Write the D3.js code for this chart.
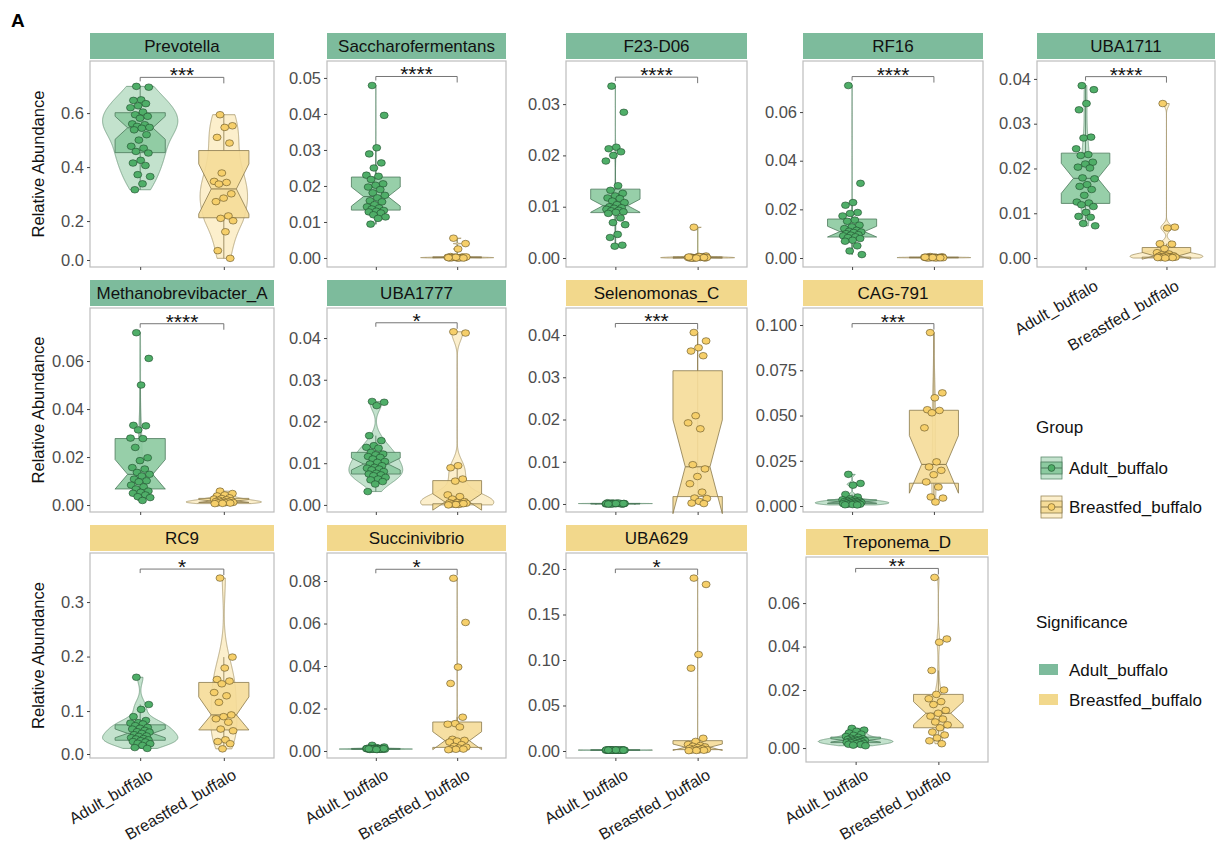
<!DOCTYPE html>
<html>
<head>
<meta charset="utf-8">
<script src="https://cdn.jsdelivr.net/npm/d3@7"></script>
<style>
  body { margin: 0; background: #fff; }
  text { font-family: "Liberation Sans", Arial, sans-serif; }
</style>
</head>
<body>
<div id="chart"></div>
<script>
// ---- data ----
const groups = ["Adult_buffalo", "Breastfed_buffalo"];
const taxa = ["Prevotella", "Saccharofermentans", "F23-D06", "RF16", "UBA1711",
              "Methanobrevibacter_A", "UBA1777", "Selenomonas_C", "CAG-791",
              "RC9", "Succinivibrio", "UBA629", "Treponema_D"];
const enrichedIn = ["Adult_buffalo", "Adult_buffalo", "Adult_buffalo", "Adult_buffalo", "Adult_buffalo",
                    "Adult_buffalo", "Adult_buffalo", "Breastfed_buffalo", "Breastfed_buffalo",
                    "Breastfed_buffalo", "Breastfed_buffalo", "Breastfed_buffalo", "Breastfed_buffalo"];
const sigLabels = ["***", "****", "****", "****", "****", "****", "*", "***", "***", "*", "*", "*", "**"];
const yTicks = [
  [0, 0.2, 0.4, 0.6],
  [0, 0.01, 0.02, 0.03, 0.04, 0.05],
  [0, 0.01, 0.02, 0.03],
  [0, 0.02, 0.04, 0.06],
  [0, 0.01, 0.02, 0.03, 0.04],
  [0, 0.02, 0.04, 0.06],
  [0, 0.01, 0.02, 0.03, 0.04],
  [0, 0.01, 0.02, 0.03, 0.04],
  [0, 0.025, 0.05, 0.075, 0.1],
  [0, 0.1, 0.2, 0.3],
  [0, 0.02, 0.04, 0.06, 0.08],
  [0, 0.05, 0.1, 0.15, 0.2],
  [0, 0.02, 0.04, 0.06]
];
const yTickFormats = [".1f", ".2f", ".2f", ".2f", ".2f", ".2f", ".2f", ".2f", ".3f", ".1f", ".2f", ".2f", ".2f"];

const prevotellaAdult = [0.699,0.696,0.649,0.647,0.635,0.627,0.620,0.604,0.594,0.588,0.581,0.560,0.557,0.551,0.547,0.544,0.538,0.520,0.500,0.477,0.470,0.458,0.452,0.425,0.415,0.406,0.372,0.365,0.338,0.316];
const prevotellaBreastfed = [0.594,0.553,0.547,0.510,0.489,0.378,0.347,0.343,0.337,0.301,0.285,0.272,0.219,0.210,0.201,0.145,0.048,0.0085];
const saccharoAdult = [0.0479,0.0396,0.0306,0.0289,0.0264,0.0250,0.0230,0.0227,0.0218,0.0206,0.0202,0.0197,0.0190,0.0181,0.0174,0.0167,0.0159,0.0156,0.0148,0.0142,0.0139,0.0136,0.0132,0.0130,0.0128,0.0125,0.0120,0.0114,0.0110,0.0094];
const saccharoBreastfed = [0.0055,0.0040,0.0025,0.0004,0.0003,0.0002,0.0002,0.0001,0.0001,0.0001,0.0000,0.0000,0.0001,0.0002,0.0003,0.0000,0.0001,0.0000,0.0002,0.0001];
const f23Adult = [0.0335,0.0284,0.0216,0.0213,0.0207,0.0200,0.0189,0.0141,0.0132,0.0126,0.0121,0.0117,0.0116,0.0111,0.0108,0.0104,0.0100,0.0098,0.0097,0.0095,0.0093,0.0092,0.0090,0.0089,0.0087,0.0078,0.0069,0.0065,0.0046,0.0040,0.0025,0.0023];
const f23Breastfed = [0.0060,0.0004,0.0003,0.0002,0.0002,0.0001,0.0001,0.0001,0.0000,0.0000,0.0001,0.0000,0.0002,0.0000,0.0001,0.0003,0.0000,0.0001,0.0000,0.0002];
const rf16Adult = [0.0709,0.0307,0.0228,0.0217,0.0187,0.0183,0.0173,0.0156,0.0151,0.0135,0.0128,0.0121,0.0114,0.0110,0.0107,0.0105,0.0100,0.0096,0.0094,0.0091,0.0087,0.0084,0.0080,0.0073,0.0069,0.0050,0.0029,0.0014];
const rf16Breastfed = [0.0006,0.0005,0.0004,0.0004,0.0003,0.0003,0.0003,0.0002,0.0002,0.0002,0.0002,0.0001,0.0001,0.0001,0.0001,0.0000,0.0000,0.0001,0.0002,0.0003];
const uba1711Adult = [0.0385,0.0376,0.0345,0.0331,0.0270,0.0268,0.0244,0.0231,0.0229,0.0214,0.0210,0.0203,0.0201,0.0179,0.0177,0.0164,0.0160,0.0153,0.0140,0.0125,0.0123,0.0119,0.0115,0.0102,0.0093,0.0091,0.0077,0.0072];
const uba1711Breastfed = [0.0345,0.0069,0.0067,0.0032,0.0031,0.0021,0.0012,0.0009,0.0007,0.0005,0.0005,0.0004,0.0003,0.0003,0.0002,0.0002,0.0001,0.0001,0.0000,0.0001];
const methanoAdult = [0.0718,0.0611,0.0500,0.0332,0.0330,0.0313,0.0279,0.0277,0.0240,0.0197,0.0185,0.0156,0.0150,0.0136,0.0128,0.0121,0.0108,0.0101,0.0097,0.0083,0.0076,0.0067,0.0058,0.0053,0.0049,0.0042,0.0035,0.0031,0.0019];
const methanoBreastfed = [0.0058,0.0048,0.0042,0.0038,0.0030,0.0027,0.0025,0.0022,0.0020,0.0018,0.0016,0.0015,0.0013,0.0012,0.0011,0.0010,0.0009,0.0008,0.0007,0.0006];
const uba1777Adult = [0.0248,0.0246,0.0238,0.0166,0.0154,0.0142,0.0138,0.0136,0.0126,0.0122,0.0120,0.0116,0.0114,0.0110,0.0104,0.0102,0.0098,0.0094,0.0090,0.0088,0.0086,0.0084,0.0080,0.0076,0.0074,0.0072,0.0070,0.0066,0.0062,0.0060,0.0056,0.0050,0.0032];
const uba1777Breastfed = [0.0415,0.0412,0.0094,0.0089,0.0062,0.0057,0.0024,0.0020,0.0014,0.0008,0.0006,0.0005,0.0003,0.0002,0.0004,0.0001,0.0002,0.0003,0.0001,0.0000];
const selenoAdult = [0.0002,0.0001,0.0001,0.0000,0.0001,0.0002,0.0000,0.0001,0.0001,0.0000,0.0001,0.0003,0.0001,0.0000,0.0001,0.0002,0.0001,0.0000,0.0001,0.0001,0.0002,0.0000,0.0001,0.0001,0.0000];
const selenoBreastfed = [0.0406,0.0386,0.0370,0.0362,0.0351,0.0209,0.0192,0.0178,0.0093,0.0083,0.0065,0.0048,0.0028,0.0014,0.0013,0.0006,0.0002,0.0001];
const cag791Adult = [0.0175,0.0125,0.0115,0.0064,0.0050,0.0040,0.0035,0.0033,0.0030,0.0028,0.0027,0.0025,0.0024,0.0022,0.0020,0.0020,0.0018,0.0016,0.0015,0.0013,0.0012,0.0010,0.0010,0.0008,0.0007,0.0006];
const cag791Breastfed = [0.0958,0.0625,0.0598,0.0532,0.0528,0.0515,0.0432,0.0244,0.0216,0.0197,0.0173,0.0133,0.0105,0.0050,0.0044,0.0022];
const rc9Adult = [0.162,0.112,0.103,0.087,0.078,0.073,0.072,0.070,0.066,0.062,0.060,0.058,0.055,0.052,0.051,0.048,0.045,0.042,0.041,0.038,0.036,0.035,0.033,0.031,0.029,0.028,0.025,0.024,0.020,0.015,0.013];
const rc9Breastfed = [0.344,0.199,0.179,0.158,0.155,0.150,0.134,0.128,0.116,0.091,0.087,0.082,0.074,0.058,0.054,0.033,0.029,0.024,0.012];
const succAdult = [0.0027,0.0019,0.0016,0.0014,0.0013,0.0012,0.0011,0.0011,0.0010,0.0010,0.0009,0.0009,0.0008,0.0008,0.0008,0.0007,0.0007,0.0009,0.0010,0.0012,0.0008,0.0009,0.0011,0.0007,0.0010];
const succBreastfed = [0.0813,0.0605,0.0395,0.0318,0.0159,0.0129,0.0126,0.0113,0.0055,0.0050,0.0047,0.0042,0.0030,0.0022,0.0018,0.0014,0.0010,0.0009,0.0008,0.0006];
const uba629Adult = [0.0012,0.0011,0.0010,0.0010,0.0009,0.0009,0.0008,0.0008,0.0010,0.0011,0.0009,0.0010,0.0012,0.0008,0.0009,0.0010,0.0011,0.0009,0.0010,0.0013,0.0008,0.0010,0.0009,0.0011,0.0010];
const uba629Breastfed = [0.190,0.183,0.106,0.091,0.0140,0.0105,0.0072,0.0060,0.0052,0.0045,0.0038,0.0030,0.0025,0.0020,0.0016,0.0012,0.0010,0.0008,0.0006,0.0004];
const treponemaAdult = [0.0068,0.0062,0.0058,0.0052,0.0048,0.0044,0.0040,0.0037,0.0034,0.0032,0.0030,0.0030,0.0028,0.0027,0.0026,0.0025,0.0023,0.0022,0.0021,0.0020,0.0019,0.0018,0.0016,0.0015,0.0013,0.0012,0.0010,0.0008];
const treponemaBreastfed = [0.0718,0.0435,0.0420,0.0290,0.0200,0.0185,0.0170,0.0160,0.0150,0.0130,0.0120,0.0110,0.0100,0.0090,0.0080,0.0070,0.0055,0.0045,0.0035,0.0025,0.0015];

const adultValues = [prevotellaAdult, saccharoAdult, f23Adult, rf16Adult, uba1711Adult, methanoAdult,
                     uba1777Adult, selenoAdult, cag791Adult, rc9Adult, succAdult, uba629Adult, treponemaAdult];
const breastfedValues = [prevotellaBreastfed, saccharoBreastfed, f23Breastfed, rf16Breastfed, uba1711Breastfed,
                         methanoBreastfed, uba1777Breastfed, selenoBreastfed, cag791Breastfed, rc9Breastfed,
                         succBreastfed, uba629Breastfed, treponemaBreastfed];

// ---- layout ----
const W = 1218, H = 846;
const colX = [90, 327, 566, 803, 1037];
const colW = [184, 179, 181, 180, 178];
const rowTop = [61, 308, 553];
const rowBottom = [267, 512, 758];
const cells = [[0,0],[0,1],[0,2],[0,3],[0,4],[1,0],[1,1],[1,2],[1,3],[2,0],[2,1],[2,2],[2,3]];
const withXLabels = [4, 9, 10, 11, 12];
// y scale breakpoints: domain values and their height fraction from panel bottom
const yDomains = [
  [-0.036, 0, 0.2, 0.793], [-0.0025, 0.0547], [-0.00175, 0.0384], [-0.0037, 0.081], [-0.002, 0.044],
  [-0.0029, 0.0821], [-0.0017, 0.0472], [-0.0019, 0.0464], [-0.0033, 0.1094],
  [-0.0093, 0, 0.1, 0.39], [-0.0033, 0.0932], [-0.0077, 0.2176], [-0.0048, 0, 0.02, 0.0812]
];
const yFracs = [
  [0, 0.034, 0.223, 1], [0, 1], [0, 1], [0, 1], [0, 1],
  [0, 1], [0, 1], [0, 1], [0, 1],
  [0, 0.0195, 0.229, 1], [0, 1], [0, 1], [0, 0.068, 0.351, 1]
];

const colors = {
  strip: { Adult_buffalo: "#7dbb9c", Breastfed_buffalo: "#f2d88c" },
  violinFill: { Adult_buffalo: "#c3e2cd", Breastfed_buffalo: "#fcefcc" },
  violinStroke: { Adult_buffalo: "#5e8c6e", Breastfed_buffalo: "#9c8b5c" },
  boxFill: { Adult_buffalo: "#8ccaa0", Breastfed_buffalo: "#f5dc98" },
  boxStroke: { Adult_buffalo: "#4c7a5c", Breastfed_buffalo: "#8a7a4c" },
  point: { Adult_buffalo: "#4fae68", Breastfed_buffalo: "#f6cf6a" },
  pointStroke: { Adult_buffalo: "#1f4a2c", Breastfed_buffalo: "#5f4f22" }
};

const svg = d3.select("#chart").append("svg")
  .attr("width", W).attr("height", H)
  .style("background", "#fff");

svg.append("text").attr("x", 11).attr("y", 27)
  .style("font-size", "19px").style("font-weight", "bold").text("A");

// ---- helpers ----
function quantiles(v) {
  const s = v.slice().sort(d3.ascending);
  return { s, q1: d3.quantile(s, 0.25), med: d3.quantile(s, 0.5), q3: d3.quantile(s, 0.75) };
}
function bwNrd0(v) {
  const { q1, q3 } = quantiles(v);
  const sd = d3.deviation(v) || 0;
  let lo = Math.min(sd, (q3 - q1) / 1.34);
  if (!lo) lo = sd || Math.abs(v[0]) || 1;
  return 0.9 * lo * Math.pow(v.length, -0.2);
}
function densityCurve(v) {
  const bw = bwNrd0(v), lo = d3.min(v), hi = d3.max(v);
  return d3.range(512).map(i => {
    const y = lo + (hi - lo) * i / 511;
    const d = d3.mean(v, x => Math.exp(-0.5 * ((y - x) / bw) ** 2)) / (bw * Math.sqrt(2 * Math.PI));
    return [y, d];
  });
}

// ---- panels ----
taxa.forEach((name, i) => {
  const [r, c] = cells[i];
  let left = colX[c], w = colW[c], top = rowTop[r], bottom = rowBottom[r];
  if (name === "Treponema_D") { left = 806; w = 182; top = 557; bottom = 762; }
  const h = bottom - top;
  const g = svg.append("g");

  const x = d3.scalePoint().domain(groups).range([left, left + w]).padding(0.6);
  const step = x.step();
  const y = d3.scaleLinear().domain(yDomains[i]).range(yFracs[i].map(f => bottom - f * h));

  const series = [adultValues[i], breastfedValues[i]];

  // strip
  g.append("rect").attr("x", left).attr("y", top - 28).attr("width", w).attr("height", 26)
    .attr("fill", colors.strip[enrichedIn[i]]);
  g.append("text").attr("x", left + w / 2).attr("y", top - 15).attr("dy", "0.36em")
    .attr("text-anchor", "middle").style("font-size", "17px").attr("fill", "#111").text(name);

  // panel border
  g.append("rect").attr("x", left).attr("y", top).attr("width", w).attr("height", h)
    .attr("fill", "none").attr("stroke", "#bdbdbd").attr("stroke-width", 1.2);

  const plot = g.append("g");

  // violins, scale = "area"
  const dens = series.map(densityCurve);
  const maxD = d3.max(dens, d => d3.max(d, p => p[1]));
  groups.forEach((grp, k) => {
    const cx = x(grp);
    const area = d3.area()
      .x0(p => cx - 0.45 * step * p[1] / maxD)
      .x1(p => cx + 0.45 * step * p[1] / maxD)
      .y(p => y(p[0]));
    plot.append("path").datum(dens[k]).attr("d", area)
      .attr("fill", colors.violinFill[grp]).attr("stroke", colors.violinStroke[grp])
      .attr("stroke-width", 0.7);
  });

  // notched boxplots
  groups.forEach((grp, k) => {
    const v = series[k];
    const { s, q1, med, q3 } = quantiles(v);
    const iqr = q3 - q1;
    const hiW = d3.max(s.filter(d => d <= q3 + 1.5 * iqr));
    const loW = d3.min(s.filter(d => d >= q1 - 1.5 * iqr));
    const nU = med + 1.58 * iqr / Math.sqrt(v.length);
    const nL = med - 1.58 * iqr / Math.sqrt(v.length);
    const cx = x(grp), hw = 0.3 * step, nw = hw * 0.5;
    plot.append("line").attr("x1", cx).attr("x2", cx).attr("y1", y(q3)).attr("y2", y(hiW))
      .attr("stroke", colors.boxStroke[grp]).attr("stroke-width", 0.8);
    plot.append("line").attr("x1", cx).attr("x2", cx).attr("y1", y(q1)).attr("y2", y(loW))
      .attr("stroke", colors.boxStroke[grp]).attr("stroke-width", 0.8);
    const pts = [
      [cx - hw, y(q3)], [cx + hw, y(q3)], [cx + hw, y(nU)], [cx + nw, y(med)], [cx + hw, y(nL)],
      [cx + hw, y(q1)], [cx - hw, y(q1)], [cx - hw, y(nL)], [cx - nw, y(med)], [cx - hw, y(nU)]
    ];
    plot.append("path").attr("d", d3.line()(pts) + "Z")
      .attr("fill", colors.boxFill[grp]).attr("fill-opacity", 0.9)
      .attr("stroke", colors.boxStroke[grp]).attr("stroke-width", 0.8);
    plot.append("line").attr("x1", cx - nw).attr("x2", cx + nw).attr("y1", y(med)).attr("y2", y(med))
      .attr("stroke", colors.boxStroke[grp]).attr("stroke-width", 1);
  });

  // jittered points (deterministic spread)
  groups.forEach((grp, k) => {
    const jw = 0.12 * step;
    plot.selectAll(null).data(series[k]).join("ellipse")
      .attr("cx", (d, j) => x(grp) + (((j * 0.6180339887 + 0.31) % 1) - 0.5) * 2 * jw)
      .attr("cy", d => y(d))
      .attr("rx", 4).attr("ry", 3.3)
      .attr("fill", colors.point[grp]).attr("stroke", colors.pointStroke[grp]).attr("stroke-width", 0.6);
  });

  // significance bracket
  const yMax = d3.max(series, s => d3.max(s));
  const by = y(yMax) - 9;
  const x1 = x(groups[0]), x2 = x(groups[1]);
  g.append("path").attr("d", `M${x1},${by + 4}V${by}H${x2}V${by + 6}`)
    .attr("fill", "none").attr("stroke", "#666").attr("stroke-width", 0.9);
  g.append("text").attr("x", (x1 + x2) / 2).attr("y", by + 5)
    .attr("text-anchor", "middle").style("font-size", "21px").attr("fill", "#111").text(sigLabels[i]);

  // y axis
  const ya = g.append("g").attr("transform", `translate(${left},0)`)
    .call(d3.axisLeft(y).tickValues(yTicks[i]).tickFormat(d3.format(yTickFormats[i])).tickSize(3).tickPadding(3));
  ya.select(".domain").remove();
  ya.selectAll(".tick line").attr("stroke", "#444");
  ya.selectAll(".tick text").attr("fill", "#4d4d4d").style("font-size", "16.5px")
    .style("font-family", "'Liberation Sans', Arial, sans-serif");

  // x axis ticks
  const xa = g.append("g").attr("transform", `translate(0,${bottom})`)
    .call(d3.axisBottom(x).tickSize(3).tickFormat(""));
  xa.select(".domain").remove();
  xa.selectAll(".tick line").attr("stroke", "#444");

  if (withXLabels.includes(i)) {
    groups.forEach(grp => {
      const tx = x(grp) + 8, ty = Math.min(bottom + 12, 768);
      g.append("text").attr("x", tx).attr("y", ty).attr("dy", "0.72em")
        .attr("text-anchor", "end").attr("transform", `rotate(-30,${tx},${ty})`)
        .style("font-size", "16px").attr("fill", "#1a1a1a").text(grp);
    });
  }

  if (c === 0) {
    svg.append("text").attr("transform", `translate(38,${(top + bottom) / 2}) rotate(-90)`)
      .attr("text-anchor", "middle").attr("dy", "0.36em")
      .style("font-size", "16.5px").attr("fill", "#111").text("Relative Abundance");
  }
});

// ---- legends ----
const leg = svg.append("g");
leg.append("text").attr("x", 1036).attr("y", 433).style("font-size", "17px").attr("fill", "#111").text("Group");
groups.forEach((grp, k) => {
  const ky = 457 + k * 39;
  leg.append("rect").attr("x", 1041).attr("y", ky).attr("width", 21).attr("height", 22)
    .attr("fill", colors.violinFill[grp]).attr("stroke", colors.violinStroke[grp]).attr("stroke-width", 0.8);
  leg.append("rect").attr("x", 1041).attr("y", ky + 5).attr("width", 21).attr("height", 12)
    .attr("fill", colors.boxFill[grp]).attr("stroke", colors.boxStroke[grp]).attr("stroke-width", 0.8);
  leg.append("line").attr("x1", 1041).attr("x2", 1062).attr("y1", ky + 11).attr("y2", ky + 11)
    .attr("stroke", colors.boxStroke[grp]).attr("stroke-width", 1);
  leg.append("circle").attr("cx", 1051.5).attr("cy", ky + 11).attr("r", 3.4)
    .attr("fill", colors.point[grp]).attr("stroke", colors.pointStroke[grp]).attr("stroke-width", 0.6);
  leg.append("text").attr("x", 1069).attr("y", ky + 11).attr("dy", "0.36em")
    .style("font-size", "17px").attr("fill", "#111").text(grp);
});
leg.append("text").attr("x", 1036).attr("y", 628).style("font-size", "17px").attr("fill", "#111").text("Significance");
groups.forEach((grp, k) => {
  const ky = 664 + k * 30;
  leg.append("rect").attr("x", 1039).attr("y", ky).attr("width", 19).attr("height", 11)
    .attr("fill", colors.strip[grp]);
  leg.append("text").attr("x", 1069).attr("y", ky + 6).attr("dy", "0.36em")
    .style("font-size", "17px").attr("fill", "#111").text(grp);
});
</script>
</body>
</html>
